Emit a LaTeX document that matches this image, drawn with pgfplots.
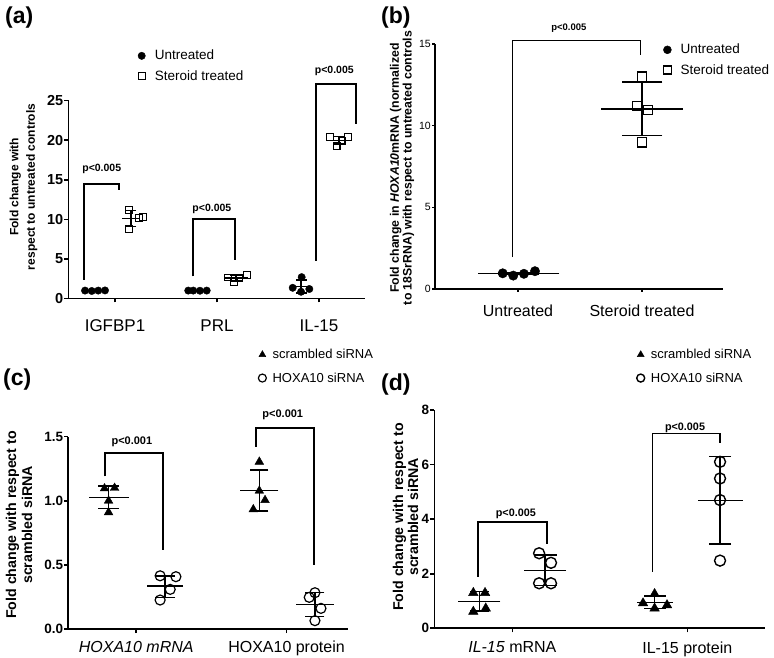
\documentclass[border=0pt]{standalone}
\usepackage{pgfplots}
\pgfplotsset{compat=1.18}
\usepackage{fontspec}
\setmainfont{Liberation Sans}
\newcommand{\fs}[1]{\fontsize{#1bp}{#1bp}\selectfont}
\tikzset{ebl/.style={line width=1.5bp}, bkl/.style={line width=2bp}}
\pgfplotsset{
 gp/.style={
  scale only axis, anchor=south west, clip=false, enlargelimits=false,
  axis x line*=bottom, axis y line*=left,
  axis line style={-, black, line width=1.6bp},
  every tick/.style={black, line width=1.6bp},
  tick align=outside, major tick length=4bp,
  minor tick num=0,
  legend cell align=left,
  legend style={draw=none, fill=none, inner xsep=0pt, inner ysep=0pt, anchor=north west, nodes={inner sep=2bp}},
  legend image code/.code={\path (-6bp,0bp) (11bp,0bp); \draw[##1] plot coordinates {(0bp,0bp)};},
 }
}
% error bar: x, mean, lo, hi, mean half width (bp), cap half width (bp)
\newcommand{\eb}[6]{%
 \addplot[black, ebl, forget plot] coordinates {(#1,#3) (#1,#4)};
 \addplot[black, only marks, mark=-, mark size=#6bp, mark options={ebl}, forget plot] coordinates {(#1,#3) (#1,#4)};
 \addplot[black, only marks, mark=-, mark size=#5bp, mark options={ebl}, forget plot] coordinates {(#1,#2)};}
% bracket: x1, y1, x2, y2, top
\newcommand{\bk}[5]{%
 \addplot[black, bkl, line join=miter, forget plot] coordinates {(#1,#2) (#1,#5) (#3,#5) (#3,#4)};}
\begin{document}
\begin{tikzpicture}
\path[use as bounding box] (0,0) rectangle (774bp,658bp);

% ---------------- (a) ----------------
\tikzset{ebl/.style={line width=1.5bp}, bkl/.style={line width=2.2bp}}
\begin{axis}[gp, at={(68.5bp,359.5bp)}, width=296.5bp, height=197.8bp,
 xmin=-0.456, xmax=2.451, ymin=0, ymax=25,
 xtick={0,1,2}, xticklabels={IGFBP1,PRL,IL-15},
 ytick={0,5,10,15,20,25}, yticklabels={0,5,10,15,20,25},
 xticklabel style={font=\fs{17}, yshift=-14bp},
 yticklabel style={font=\bfseries\fs{14.5}, inner xsep=1bp},
 legend style={at={(0.2253,1.2664)}, font=\fs{13.5}, row sep=5bp}]
\addplot[black, only marks, mark=*, mark size=3.7bp] coordinates {
 (-0.294,1.0) (-0.228,0.95) (-0.164,1.0) (-0.098,1.02)
 (0.718,1.0) (0.767,1.0) (0.833,0.98) (0.899,1.0)
 (1.830,2.7) (1.742,1.35) (1.824,0.85) (1.905,1.2)};
\addlegendentry{Untreated}
\addplot[black, only marks, mark=square, mark size=3.4bp, mark options={line width=1.1bp}] coordinates {
 (0.140,11.2) (0.232,10.2) (0.277,10.3) (0.140,8.8)
 (1.110,2.65) (1.167,2.1) (1.219,2.6) (1.291,3.0)
 (2.108,20.4) (2.173,19.3) (2.222,19.9) (2.286,20.4)};
\addlegendentry{Steroid treated}
\eb{-0.196}{0.99}{0.96}{1.02}{12}{6}
\eb{0.157}{10.1}{9.1}{11.1}{9}{5}
\eb{0.800}{1.0}{0.99}{1.01}{12}{6}
\eb{1.186}{2.59}{2.22}{2.96}{12}{6}
\eb{1.824}{1.53}{0.72}{2.34}{11.3}{5.5}
\eb{2.196}{20.0}{19.5}{20.5}{12}{6}
\bk{-0.301}{2.4}{0.039}{13.7}{14.5}
\bk{0.765}{2.8}{1.180}{4.9}{10.0}
\bk{1.970}{4.8}{2.363}{22.1}{27.1}
\node[font=\bfseries\fs{10.5}] at (axis cs:-0.13,16.4) {p<0.005};
\node[font=\bfseries\fs{10.5}] at (axis cs:0.95,11.3) {p<0.005};
\node[font=\bfseries\fs{10.5}] at (axis cs:2.15,28.7) {p<0.005};
\end{axis}

% ---------------- (b) ----------------
\tikzset{ebl/.style={line width=1.5bp}, bkl/.style={line width=1.3bp}}
\begin{axis}[gp, at={(435bp,369bp)}, width=288bp, height=245bp,
 xmin=-0.669, xmax=1.653, ymin=0, ymax=15,
 axis line style={-, black, line width=1.3bp},
 every tick/.style={black, line width=1.3bp}, major tick length=3bp,
 xtick={0,1}, xticklabels={Untreated,Steroid treated},
 ytick={0,5,10,15}, yticklabels={0,5,10,15},
 xticklabel style={font=\fs{16}, yshift=-9bp},
 yticklabel style={font=\fs{10.5}, inner xsep=1bp},
 legend style={at={(0.7847,1.0082)}, font=\fs{13.5}, row sep=5bp},
 legend image code/.code={\path (-6bp,0bp) (11bp,0bp); \draw[#1, mark size=4bp] plot coordinates {(0bp,0bp)};}]
\addplot[black, only marks, mark=*, mark size=4.7bp] coordinates {
 (-0.123,0.96) (-0.038,0.82) (0.048,0.93) (0.137,1.09)};
\addlegendentry{Untreated}
\addplot[black, only marks, mark=square, mark size=4.7bp, mark options={line width=1.3bp}] coordinates {
 (1.0,13.0) (0.96,11.2) (1.045,10.95) (1.0,8.98)};
\addlegendentry{Steroid treated}
\eb{0.004}{0.95}{0.88}{1.02}{40.8}{20.3}
\eb{1.0}{11.03}{9.39}{12.67}{40.8}{20.3}
\bk{-0.046}{1.95}{0.99}{14.3}{15.2}
\node[font=\bfseries\fs{9.5}] at (axis cs:0.41,15.95) {p<0.005};
\end{axis}

% ---------------- (c) ----------------
\tikzset{ebl/.style={line width=1.5bp}, bkl/.style={line width=2bp}}
\begin{axis}[gp, at={(68.3bp,29bp)}, width=279.7bp, height=192.3bp,
 xmin=-0.452, xmax=1.409, ymin=0, ymax=1.5,
 xtick={0,1}, xticklabels={\textit{HOXA10 mRNA},HOXA10 protein},
 ytick={0,0.5,1,1.5}, yticklabels={0.0,0.5,1.0,1.5},
 xticklabel style={font=\fs{16}, yshift=-4.5bp},
 yticklabel style={font=\bfseries\fs{13.5}, inner xsep=1bp},
 legend style={at={(0.671,1.4665)}, font=\fs{13}, row sep=8.5bp},
 legend image code/.code={\path (-6bp,0bp) (8bp,0bp); \draw[#1, mark size=4bp] plot coordinates {(0bp,0bp)};}]
\addplot[black, only marks, mark=triangle*, mark size=5bp] coordinates {
 (-0.211,1.096) (-0.144,1.10) (-0.184,1.0) (-0.184,0.91)
 (0.819,1.304) (0.819,1.078) (0.857,1.005) (0.779,0.933)};
\addlegendentry{scrambled siRNA}
\addplot[black, only marks, mark=o, mark size=5bp, mark options={line width=1.2bp}] coordinates {
 (0.159,0.415) (0.264,0.408) (0.226,0.309) (0.159,0.226)
 (1.189,0.283) (1.151,0.247) (1.229,0.161) (1.189,0.065)};
\addlegendentry{HOXA10 siRNA}
\eb{-0.184}{1.027}{0.941}{1.117}{20}{10.3}
\eb{0.193}{0.335}{0.247}{0.415}{18}{10}
\eb{0.819}{1.08}{0.922}{1.239}{19}{9}
\eb{1.189}{0.19}{0.096}{0.283}{19}{9.5}
\bk{-0.206}{1.19}{0.181}{0.62}{1.37}
\bk{0.797}{1.42}{1.183}{0.5}{1.57}
\node[font=\bfseries\fs{11}] at (axis cs:-0.029,1.46) {p<0.001};
\node[font=\bfseries\fs{11}] at (axis cs:0.975,1.67) {p<0.001};
\end{axis}

% ---------------- (d) ----------------
\tikzset{ebl/.style={line width=1.5bp}, bkl/.style={line width=1.6bp}}
\begin{axis}[gp, at={(434.3bp,29.7bp)}, width=330.7bp, height=218.3bp,
 xmin=-0.446, xmax=1.444, ymin=0, ymax=8,
 xtick={0,1}, xticklabels={\textit{IL-15} mRNA,IL-15 protein},
 ytick={0,2,4,6,8}, yticklabels={0,2,4,6,8},
 xticklabel style={font=\fs{16}, yshift=-6bp},
 yticklabel style={font=\bfseries\fs{13.5}, inner xsep=1bp},
 legend style={at={(0.6048,1.2886)}, font=\fs{13}, row sep=8.5bp},
 legend image code/.code={\path (-6bp,0bp) (8bp,0bp); \draw[#1, mark size=4bp] plot coordinates {(0bp,0bp)};}]
\addplot[black, only marks, mark=triangle*, mark size=5.5bp] coordinates {
 (-0.223,1.30) (-0.156,1.30) (-0.223,0.61) (-0.152,0.73)
 (0.813,1.26) (0.747,0.92) (0.813,0.73) (0.884,0.85)};
\addlegendentry{scrambled siRNA}
\addplot[black, only marks, mark=o, mark size=5.5bp, mark options={line width=1.4bp}] coordinates {
 (0.153,2.75) (0.221,2.4) (0.153,1.65) (0.221,1.65)
 (1.187,6.1) (1.187,5.49) (1.187,4.7) (1.187,2.48)};
\addlegendentry{HOXA10 siRNA}
\eb{-0.189}{0.985}{0.63}{1.34}{21}{9.5}
\eb{0.187}{2.11}{1.56}{2.68}{21}{11.5}
\eb{0.813}{0.94}{0.73}{1.18}{18}{11}
\eb{1.187}{4.69}{3.09}{6.29}{22.5}{11}
\bk{-0.198}{1.89}{0.197}{3.09}{3.89}
\bk{0.802}{2.07}{1.187}{6.8}{7.14}
\node[font=\bfseries\fs{10.8}] at (axis cs:0.02,4.2) {p<0.005};
\node[font=\bfseries\fs{10.8}, anchor=south, inner sep=0.5bp] at (axis cs:0.987,7.14) {p<0.005};
\end{axis}

% ---------------- labels ----------------
\node[rotate=90, align=center, font=\bfseries\fontsize{12bp}{16.5bp}\selectfont] at (23.5bp,471bp) {Fold change with\\respect to untreated controls};
\node[rotate=90, align=center, font=\bfseries\fontsize{12.3bp}{12.8bp}\selectfont] at (402bp,490bp) {Fold change in \textit{HOXA10}mRNA (normalized\\to 18SrRNA) with respect to untreated controls};
\node[rotate=90, align=center, font=\bfseries\fontsize{14.2bp}{16bp}\selectfont] at (19bp,133bp) {Fold change with respect to\\scrambled siRNA};
\node[rotate=90, align=center, font=\bfseries\fontsize{14.2bp}{15bp}\selectfont] at (405.5bp,141bp) {Fold change with respect to\\scrambled siRNA};
\node[anchor=west, inner sep=0pt, font=\bfseries\fs{23}] at (5bp,640bp) {(a)};
\node[anchor=west, inner sep=0pt, font=\bfseries\fs{23}] at (381bp,640bp) {(b)};
\node[anchor=west, inner sep=0pt, font=\bfseries\fs{23}] at (3bp,278bp) {(c)};
\node[anchor=west, inner sep=0pt, font=\bfseries\fs{23}] at (381bp,273bp) {(d)};
\end{tikzpicture}
\end{document}
